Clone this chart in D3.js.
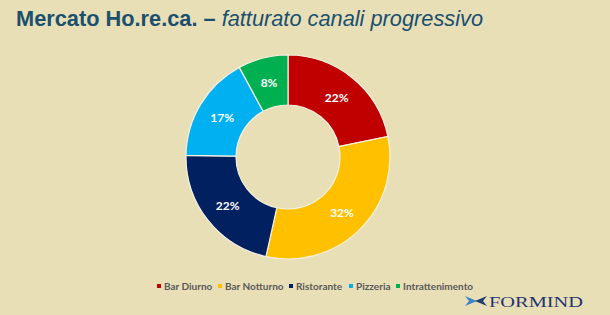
<!DOCTYPE html>
<html><head><meta charset="utf-8">
<script src="https://cdn.jsdelivr.net/npm/d3@7"></script>
<style>html,body{margin:0;padding:0;background:#E9DFB7;}svg{display:block;}</style>
</head><body>
<script>
const categories = ["Bar Diurno","Bar Notturno","Ristorante","Pizzeria","Intrattenimento"];
const values = [22,32,22,17,8];
const colors = ["#C00000","#FFC000","#002060","#00B0F0","#00B050"];
const title1 = "Mercato Ho.re.ca. – ";
const title2 = "fatturato canali progressivo";

const W=610,H=315;
const svg=d3.select("body").append("svg").attr("width",W).attr("height",H);
svg.append("rect").attr("width",W).attr("height",H).attr("fill","#E9DFB7");

const t=svg.append("text").attr("x",16).attr("y",26).attr("fill","#1B4F6E")
  .attr("font-family","Liberation Sans, Arial, sans-serif").attr("font-size",22.5)
  .attr("textLength",467).attr("lengthAdjust","spacingAndGlyphs");
t.append("tspan").attr("font-weight","bold").text(title1);
t.append("tspan").attr("font-style","italic").text(title2);

const cx=288,cy=157,R=102,r=52;
const pie=d3.pie().sort(null).value(d=>d)(values);
const arc=d3.arc().innerRadius(r).outerRadius(R);
const g=svg.append("g").attr("transform",`translate(${cx},${cy})`);
g.selectAll("path").data(pie).join("path").attr("d",arc)
  .attr("fill",(d,i)=>colors[i]).attr("stroke","#F4F0E0").attr("stroke-width",1.2);
const larc=d3.arc().innerRadius((r+R)/2).outerRadius((r+R)/2);
g.selectAll("text").data(pie).join("text")
  .attr("transform",d=>`translate(${larc.centroid(d)})`)
  .attr("text-anchor","middle").attr("dy","0.4em")
  .attr("fill","#fff").attr("font-family","Lato, Open Sans, sans-serif").attr("font-weight","bold")
  .attr("font-size",12).text(d=>d.data+"%");

// legend
const lx=[157,218,289,349,396];
const lg=svg.append("g").attr("font-family","Lato, Open Sans, sans-serif").attr("font-size",10)
  .attr("font-weight","bold").attr("fill","#595959");
categories.forEach((c,i)=>{
  lg.append("rect").attr("x",lx[i]).attr("y",284).attr("width",4).attr("height",4).attr("fill",colors[i]);
  lg.append("text").attr("x",lx[i]+7).attr("y",289.5).text(c);
});

// logo
const lo=svg.append("g").attr("transform","translate(465,296)");
lo.append("path").attr("d","M0,0 L12,5 L0,10 L4,5 Z").attr("fill","#3A86C8");
lo.append("path").attr("d","M22,0 L10,5 L22,10 L18,5 Z").attr("fill","#1F3E6E");
lo.append("text").attr("x",24).attr("y",11).attr("font-family","Liberation Serif, serif")
  .attr("font-size",15.5).attr("fill","#1F3570").attr("textLength",94).attr("lengthAdjust","spacingAndGlyphs").text("FORMIND");
</script>
</body></html>
